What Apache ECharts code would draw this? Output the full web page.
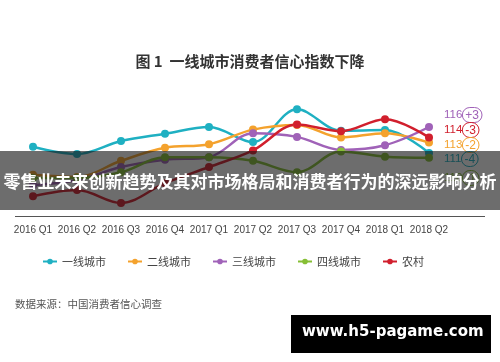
<!DOCTYPE html>
<html><head><meta charset="utf-8">
<script src="https://cdn.jsdelivr.net/npm/echarts@6/dist/echarts.min.js"></script>
<style>html,body{margin:0;padding:0;background:#fff;}#c{width:500px;height:362px;}</style>
</head><body><div id="c"></div>
<script>
const categories = ['2016 Q1','2016 Q2','2016 Q3','2016 Q4','2017 Q1','2017 Q2','2017 Q3','2017 Q4','2018 Q1','2018 Q2'];
const seriesNames = ['一线城市','二线城市','三线城市','四线城市','农村'];
const tier1 = [112.2,110.8,113.3,114.7,116.0,113.1,119.4,115.3,115.4,111.0];
const tier2 = [106.8,106.4,109.5,112.0,112.7,115.5,116.4,114.0,114.8,113.0];
const tier3 = [104.8,105.8,108.3,109.7,110.2,114.8,114.1,111.6,112.5,116.0];
const tier4 = [106.2,106.2,107.3,110.2,110.2,109.5,107.3,111.3,110.3,110.1];
const rural = [102.7,103.9,101.4,105.2,108.3,111.5,116.5,115.2,117.5,114.0];
const endValues = ['116','114','113','111','110'];
const endChanges = ['+3','-3','-2','-4','-1'];
const colors = ['#1fb0c2','#f4a22d','#a062b8','#86bf35','#d11f2d'];
const title = '图 1  一线城市消费者信心指数下降';
const banner = '零售业未来创新趋势及其对市场格局和消费者行为的深远影响分析';
const source = '数据来源：中国消费者信心调查';
const watermark = 'www.h5-pagame.com';

const allData = [tier1,tier2,tier3,tier4,rural];
const series = seriesNames.map((n,i)=>({
  name:n, type:'line', smooth:0.35, data:allData[i],
  symbol:'circle', symbolSize:8, lineStyle:{width:2.5, color:colors[i]},
  itemStyle:{color:colors[i]}, z:2
}));

// end labels order: purple, red, orange, teal, green
const labelOrder = [2,4,1,0,3];
const labelY = [114,129,144,158,177];
const endGraphics = labelOrder.map((si,k)=>({
  type:'text', left:444, top:labelY[k]-7, z:5,
  style:{
    text:'{a|'+endValues[k]+'}{b|'+endChanges[k]+'}',
    rich:{
      a:{fill:colors[si], fontSize:11.5, fontFamily:'Liberation Sans Narrow, Liberation Sans, sans-serif'},
      b:{fill:colors[si], fontSize:12, fontFamily:'Liberation Sans, sans-serif', borderColor:colors[si], borderWidth:1, borderType:'dotted', borderRadius:9, padding:[2,3,1,3]}
    }
  }
}));

const chart = echarts.init(document.getElementById('c'));
chart.setOption({
  animation:false,
  backgroundColor:'#fff',
  color:colors,
  grid:{left:33, right:71, top:75, bottom:141.4},
  xAxis:{type:'category', data:categories, boundaryGap:false,
    axisLine:{show:false}, axisTick:{show:false},
    axisLabel:{interval:0, color:'#444', fontSize:10, margin:5, fontFamily:'Liberation Sans Narrow, Liberation Sans, sans-serif'}},
  yAxis:{type:'value', min:98, max:126, show:false, splitLine:{show:false}},
  legend:{left:37, top:251, itemWidth:14, itemHeight:7, itemGap:21,
    textStyle:{fontSize:11, color:'#444', fontFamily:'Noto Sans CJK SC, sans-serif'}, data:seriesNames},
  series:series,
  graphic:[
    {type:'text', left:'center', top:54, z:5, style:{text:title, fill:'#333', fontSize:15, fontWeight:'bold', fontFamily:'Noto Sans CJK SC, sans-serif'}},
    {type:'line', shape:{x1:15,y1:216.5,x2:485,y2:216.5}, style:{stroke:'#555', lineWidth:1}, z:1},
    ...endGraphics,
    {type:'rect', shape:{x:0,y:151,width:500,height:59}, style:{fill:'rgba(20,20,20,0.62)'}, z:50},
    {type:'text', left:'center', top:173, z:51, style:{text:banner, fill:'#fff', fontSize:17, fontWeight:'bold', fontFamily:'Noto Sans CJK SC, sans-serif'}},
    {type:'text', left:15, top:299, z:5, style:{text:source, fill:'#555', fontSize:10.5, fontFamily:'Noto Sans CJK SC, sans-serif'}},
    {type:'rect', shape:{x:291,y:315,width:200,height:38}, style:{fill:'#000'}, z:60},
    {type:'text', left:302, top:325, z:61, style:{text:watermark, fill:'#fff', fontSize:15, fontWeight:'bold', fontFamily:'DejaVu Sans, sans-serif'}}
  ]
});
</script></body></html>
